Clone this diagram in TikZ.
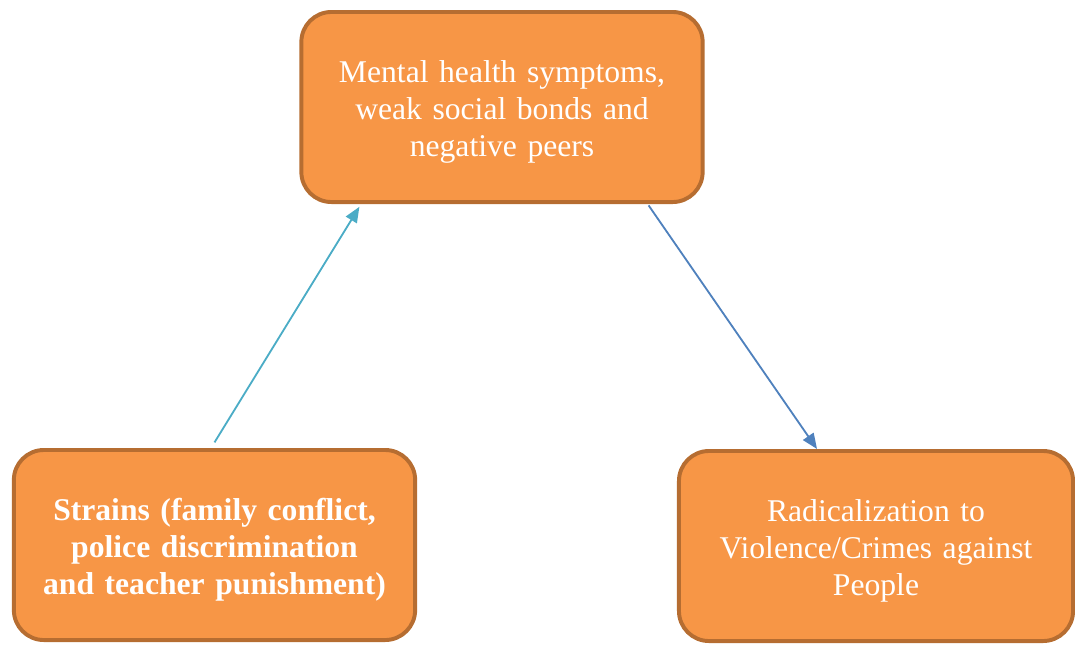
\documentclass[tikz,border=0pt]{standalone}
\usepackage{fontspec}
\setmainfont{Liberation Serif}
\usetikzlibrary{arrows.meta}
\definecolor{naranja}{HTML}{F79646}
\definecolor{borde}{HTML}{B66D31}
\definecolor{celeste}{HTML}{4BACC6}
\definecolor{azul}{HTML}{4F81BD}

\begin{document}
\begin{tikzpicture} %Diagrama
  [
    x=0.025cm, y=-0.025cm,
    % Estilo de las cajas para no repetir codigo
    caja/.style={rectangle, rounded corners=0.75cm, draw=borde, fill=naranja, line width=2.8pt,
      minimum width=10.03cm, minimum height=4.75cm, text width=9.6cm, align=center,
      text=white, font=\fontsize{22.5}{26.3}\selectfont, inner sep=0pt,
      execute at begin node=\rule{0pt}{23pt}},
    flecha/.style={line width=1.3pt, -{Triangle[length=11pt,width=9pt]}}
  ]
  \useasboundingbox (0,0) rectangle (1075,647);
  \node[caja] (sintomas) at (502,107) {Mental health symptoms,\\ weak social bonds and\\ negative peers};
  \node[caja] (estres) at (214.5,545) {\bfseries Strains (family conflict,\\ police discrimination\\ and teacher punishment)};
  \node[caja, minimum width=9.85cm] (radical) at (876,546) {Radicalization to\\ Violence/Crimes against\\ People};
  \draw[flecha, celeste] ([yshift=4pt]estres.north) -- ([xshift=1.5cm, yshift=-2pt]sintomas.south west);
  \draw[flecha, azul] ([xshift=-1.4cm, yshift=-1pt]sintomas.south east) -- ([xshift=3.5cm]radical.north west);

\end{tikzpicture}
\end{document}
